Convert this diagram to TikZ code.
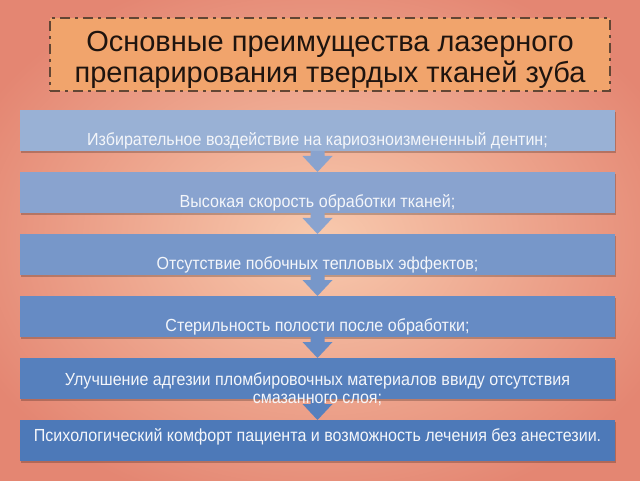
\documentclass[tikz,border=0pt]{standalone}
\usepackage{fontspec}
\setmainfont{Liberation Sans}
\newfontfamily\boxfont[FakeStretch=0.918]{Liberation Sans}
\usetikzlibrary{calc}
\definecolor{bgout}{RGB}{228,134,114}
\definecolor{bgin}{RGB}{248,202,174}
\definecolor{titlefill}{RGB}{241,164,108}
\definecolor{titleborder}{RGB}{98,70,52}
\definecolor{titletext}{RGB}{30,20,15}
\definecolor{bc1}{RGB}{153,177,213}
\definecolor{bc2}{RGB}{137,163,207}
\definecolor{bc3}{RGB}{119,151,201}
\definecolor{bc4}{RGB}{102,139,196}
\definecolor{bc5}{RGB}{86,128,189}
\definecolor{bc6}{RGB}{77,121,184}
\definecolor{boxtxt}{RGB}{244,246,250}
\tikzset{
  stagebox/.style={fill=#1, minimum width=595pt, minimum height=41pt, inner sep=0pt, outer sep=0pt},
  stagetext/.style={text=boxtxt, font=\boxfont\fontsize{17.5}{18}\selectfont, align=center, inner sep=0pt},
  shadowbox/.style={fill=black, opacity=0.22},
  titlebox/.style={fill=titlefill, draw=titleborder, line width=2.6pt,
    dash pattern=on 10pt off 5pt on 3pt off 5pt,
    minimum width=560pt, minimum height=73pt, inner sep=0pt},
  titletxt/.style={font=\fontsize{29}{31}\selectfont, text=titletext, align=center, inner sep=0pt}
}
\newcommand{\downarr}[3]{%
  \fill[#3] ([xshift=-7pt]#1.south) -- ([xshift=-7pt,yshift=-5pt]#1.south)
    -- ([xshift=-15pt,yshift=-5pt]#1.south) -- (#2.north)
    -- ([xshift=15pt,yshift=-5pt]#1.south) -- ([xshift=7pt,yshift=-5pt]#1.south)
    -- ([xshift=7pt]#1.south) -- cycle;}
\begin{document}
\begin{tikzpicture}[x=1pt,y=1pt]
\useasboundingbox (0,0) rectangle (640,480);
\shade[inner color=bgin, outer color=bgout] (-60,-40) rectangle (700,520);
\node[titlebox] (title) at (330,425.5) {};
\node[titletxt] (titletext) at (330,420) {Основные преимущества лазерного\\препарирования твердых тканей зуба};
% shadows
\foreach \y in {349.5,287.5,225.5,163.5,101.5,39.5}{
  \fill[shadowbox] (21,\y-22.5) rectangle (616,\y+18.5);
}
\node[stagebox=bc1] (b1) at (317.5,349.5) {};
\node[stagebox=bc2] (b2) at (317.5,287.5) {};
\node[stagebox=bc3] (b3) at (317.5,225.5) {};
\node[stagebox=bc4] (b4) at (317.5,163.5) {};
\node[stagebox=bc5] (b5) at (317.5,101.5) {};
\node[stagebox=bc6] (b6) at (317.5,39.5) {};
\downarr{b1}{b2}{bc1!92!black!10!bc2}
\downarr{b2}{b3}{bc2}
\downarr{b3}{b4}{bc3}
\downarr{b4}{b5}{bc4}
\downarr{b5}{b6}{bc5}
\node[stagetext] (t1) at (317.5,339) {Избирательное воздействие на кариозноизмененный дентин;};
\node[stagetext] (t2) at (317.5,277) {Высокая скорость обработки тканей;};
\node[stagetext] (t3) at (317.5,215) {Отсутствие побочных тепловых эффектов;};
\node[stagetext] (t4) at (317.5,153) {Стерильность полости после обработки;};
\node[stagetext] (t5) at (317.5,91) {Улучшение адгезии пломбировочных материалов ввиду отсутствия\\смазанного слоя;};
\node[stagetext] (t6) at (317.5,43) {Психологический комфорт пациента и возможность лечения без анестезии.};
\end{tikzpicture}
\end{document}
